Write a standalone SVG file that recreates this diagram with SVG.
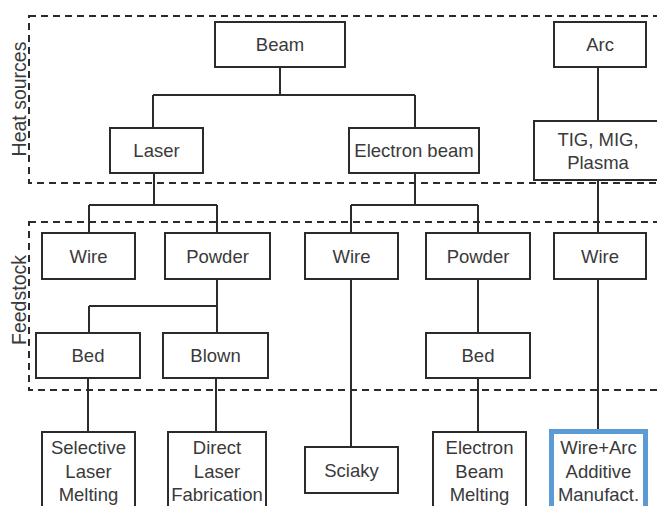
<svg xmlns="http://www.w3.org/2000/svg" width="657" height="506" viewBox="0 0 657 506">
<style>
.box{fill:#fff;stroke:#2b2b2b;stroke-width:2}
.hl{fill:#fff;stroke:#5b9bd5;stroke-width:5}
.zone{fill:none;stroke:#2b2b2b;stroke-width:2;stroke-dasharray:7 5}
.c{fill:none;stroke:#2b2b2b;stroke-width:2}
text{font-family:"Liberation Sans",Arial,sans-serif;font-size:18.5px;fill:#3a3a3a;text-anchor:middle}
.side{font-size:19.5px}
</style>
<rect width="657" height="506" fill="#fff"/>
<g id="zones">
<rect class="zone" x="29" y="16" width="650" height="167"/>
<rect class="zone" x="29" y="222" width="650" height="168"/>
<text class="side" transform="translate(26,99) rotate(-90)">Heat sources</text>
<text class="side" transform="translate(26,300) rotate(-90)">Feedstock</text>
</g>
<g id="connectors">
<path class="c" d="M280 67V95M153 95H415M153 95V128M415 95V128"/>
<path class="c" d="M598 67V121M598 180V233M598 279V429"/>
<path class="c" d="M154 173V205M89 205H217M89 205V233M217 205V233"/>
<path class="c" d="M415 173V205M351 205H478M351 205V233M478 205V233"/>
<path class="c" d="M217 279V333M89 306H217M89 306V333"/>
<path class="c" d="M88 378V432M216 378V432"/>
<path class="c" d="M351 279V447M478 279V333M478 378V432"/>
</g>
<g id="beam"><rect class="box" x="215" y="22" width="130" height="45"/><text x="280" y="51">Beam</text></g>
<g id="arc"><rect class="box" x="554" y="22" width="92" height="45"/><text x="600" y="51">Arc</text></g>
<g id="laser"><rect class="box" x="110" y="128" width="93" height="45"/><text x="156.5" y="157">Laser</text></g>
<g id="electron-beam"><rect class="box" x="349" y="128" width="130" height="45"/><text x="414" y="157">Electron beam</text></g>
<g id="tig"><rect class="box" x="534" y="121" width="130" height="59"/><text x="598" y="146">TIG, MIG,</text><text x="598" y="169">Plasma</text></g>
<g id="wire-laser"><rect class="box" x="42" y="233" width="93" height="46"/><text x="88.5" y="263">Wire</text></g>
<g id="powder-laser"><rect class="box" x="165" y="233" width="105" height="46"/><text x="217.5" y="263">Powder</text></g>
<g id="wire-eb"><rect class="box" x="305" y="233" width="93" height="46"/><text x="351.5" y="263">Wire</text></g>
<g id="powder-eb"><rect class="box" x="426" y="233" width="104" height="46"/><text x="478" y="263">Powder</text></g>
<g id="wire-arc"><rect class="box" x="554" y="233" width="92" height="46"/><text x="600" y="263">Wire</text></g>
<g id="bed-laser"><rect class="box" x="36" y="333" width="104" height="45"/><text x="88" y="362">Bed</text></g>
<g id="blown"><rect class="box" x="163" y="333" width="105" height="45"/><text x="215.5" y="362">Blown</text></g>
<g id="bed-eb"><rect class="box" x="426" y="333" width="104" height="45"/><text x="478" y="362">Bed</text></g>
<g id="slm"><rect class="box" x="42" y="432" width="93" height="90"/><text x="88.5" y="454">Selective</text><text x="88.5" y="477.5">Laser</text><text x="88.5" y="501">Melting</text></g>
<g id="dlf"><rect class="box" x="168" y="432" width="98" height="90"/><text x="217" y="454">Direct</text><text x="217" y="477.5">Laser</text><text x="217" y="501">Fabrication</text></g>
<g id="sciaky"><rect class="box" x="305" y="447" width="93" height="46"/><text x="351.5" y="477">Sciaky</text></g>
<g id="ebm"><rect class="box" x="433" y="432" width="93" height="90"/><text x="479.5" y="454">Electron</text><text x="479.5" y="477.5">Beam</text><text x="479.5" y="501">Melting</text></g>
<g id="waam"><rect class="hl" x="551.5" y="431.5" width="94" height="90"/><text x="598.5" y="454">Wire+Arc</text><text x="598.5" y="477.5">Additive</text><text x="598.5" y="501">Manufact.</text></g>
</svg>
